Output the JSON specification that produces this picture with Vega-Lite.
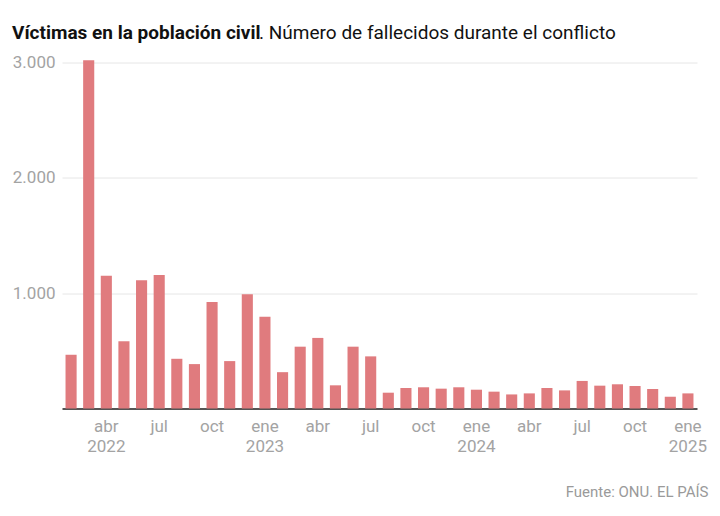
{
  "$schema": "https://vega.github.io/schema/vega-lite/v6.json",
  "width": 635,
  "height": 346,
  "autosize": {"type": "none"},
  "padding": {"left": 62, "top": 62.5, "right": 23, "bottom": 107.5},
  "background": "white",
  "title": {
    "text": "Víctimas en la población civil",
    "subtitle": "\u200b\u2003\u2003\u2003\u2003\u2003\u2003\u2003\u2003\u2003\u2003\u2003\u2003\u2002\u2005. Número de fallecidos durante el conflicto"
  },
  "data": {
    "values": [
      {"m": "2022-02", "v": 466},
      {"m": "2022-03", "v": 3020},
      {"m": "2022-04", "v": 1152},
      {"m": "2022-05", "v": 583},
      {"m": "2022-06", "v": 1111},
      {"m": "2022-07", "v": 1157},
      {"m": "2022-08", "v": 431},
      {"m": "2022-09", "v": 385},
      {"m": "2022-10", "v": 924},
      {"m": "2022-11", "v": 411},
      {"m": "2022-12", "v": 991},
      {"m": "2023-01", "v": 796},
      {"m": "2023-02", "v": 315},
      {"m": "2023-03", "v": 536},
      {"m": "2023-04", "v": 612},
      {"m": "2023-05", "v": 201},
      {"m": "2023-06", "v": 536},
      {"m": "2023-07", "v": 452},
      {"m": "2023-08", "v": 137},
      {"m": "2023-09", "v": 178},
      {"m": "2023-10", "v": 184},
      {"m": "2023-11", "v": 172},
      {"m": "2023-12", "v": 184},
      {"m": "2024-01", "v": 163},
      {"m": "2024-02", "v": 146},
      {"m": "2024-03", "v": 122},
      {"m": "2024-04", "v": 131},
      {"m": "2024-05", "v": 178},
      {"m": "2024-06", "v": 157},
      {"m": "2024-07", "v": 239},
      {"m": "2024-08", "v": 198},
      {"m": "2024-09", "v": 210},
      {"m": "2024-10", "v": 195},
      {"m": "2024-11", "v": 169},
      {"m": "2024-12", "v": 102},
      {"m": "2025-01", "v": 131}
    ]
  },
  "mark": {"type": "bar", "color": "#e07b7e", "clip": false},
  "encoding": {
    "x": {
      "field": "m",
      "type": "ordinal",
      "sort": null,
      "scale": {"paddingInner": 0.37, "paddingOuter": 0.2},
      "axis": {
        "title": "Fuente: ONU. EL PAÍS",
        "titleAnchor": "end",
        "titleAlign": "right",
        "titleX": 646,
        "titleY": 88,
        "titleBaseline": "alphabetic",
        "titleFont": "Roboto",
        "titleFontSize": 15,
        "titleFontWeight": "normal",
        "titleColor": "#9a9a9a",
        "labelExpr": "slice(datum.value,5)=='01' ? ['ene', slice(datum.value,0,4)] : datum.value=='2022-04' ? ['abr','2022'] : slice(datum.value,5)=='04' ? 'abr' : slice(datum.value,5)=='07' ? 'jul' : slice(datum.value,5)=='10' ? 'oct' : ''",
        "labelAngle": 0,
        "labelAlign": "center",
        "labelBaseline": "top",
        "labelPadding": 10,
        "labelLineHeight": 20,
        "labelFont": "Roboto",
        "labelFontSize": 17,
        "labelColor": "#a3a3a3",
        "labelOverlap": false,
        "labelBound": false,
        "ticks": false,
        "domain": true,
        "domainColor": "#555555",
        "domainWidth": 2,
        "grid": false
      }
    },
    "y": {
      "field": "v",
      "type": "quantitative",
      "scale": {"domain": [0, 3000], "nice": false},
      "axis": {
        "title": null,
        "values": [1000, 2000, 3000],
        "labelExpr": "replace(format(datum.value, ','), ',', '.')",
        "labelFont": "Roboto",
        "labelFontSize": 17,
        "labelColor": "#a3a3a3",
        "labelPadding": 7,
        "labelBaseline": "middle",
        "ticks": false,
        "domain": false,
        "grid": true,
        "gridColor": "#e6e6e6",
        "gridWidth": 1
      }
    }
  },
  "config": {
    "view": {"stroke": null},
    "title": {
      "anchor": "start",
      "frame": "group",
      "dx": -50,
      "offset": 11,
      "font": "Roboto",
      "fontSize": 19,
      "fontWeight": "bold",
      "color": "#111111",
      "subtitleFont": "Roboto",
      "subtitleFontSize": 19,
      "subtitleFontWeight": "normal",
      "subtitleColor": "#111111",
      "subtitlePadding": -19
    }
  }
}
